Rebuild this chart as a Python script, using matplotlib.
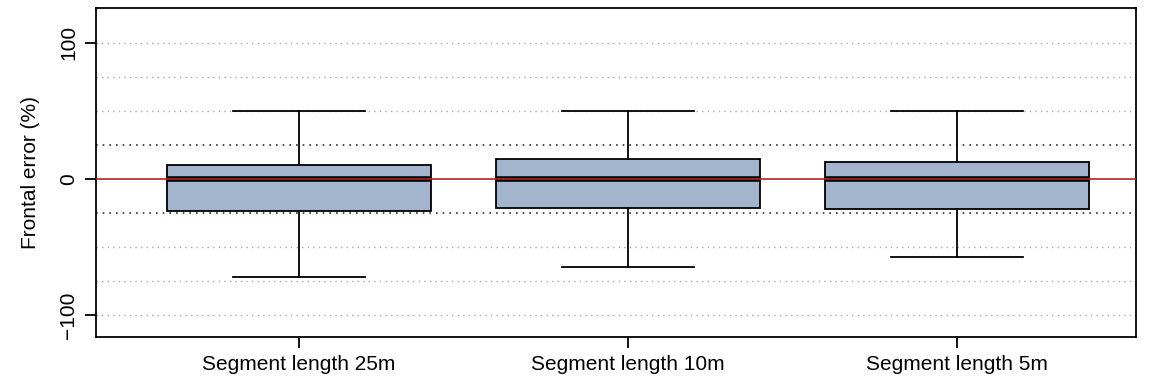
import matplotlib.pyplot as plt

labels = ["Segment length 25m", "Segment length 10m", "Segment length 5m"]
whisker_low = [-72, -64.5, -57]
q1 = [-23.5, -21.5, -22]
median = [0, 0, 0]
q3 = [10, 14.5, 12]
whisker_high = [50, 50, 50]

stats = []
for i, lab in enumerate(labels):
    stats.append({"label": lab, "whislo": whisker_low[i], "q1": q1[i], "med": median[i],
                  "q3": q3[i], "whishi": whisker_high[i], "fliers": []})

plt.rcParams["font.family"] = ["Liberation Sans", "DejaVu Sans"]

fig = plt.figure(figsize=(11.49, 3.84), dpi=100)
ax = fig.add_axes([0.0836, 0.1224, 0.9051, 0.8556])

# reference grid
for y in [-100, -75, -50, 50, 75, 100]:
    ax.axhline(y, color="#aaaaaa", lw=1, ls=(0, (1, 3)), zorder=0)
for y in [-25, 25]:
    ax.axhline(y, color="#333333", lw=1.2, ls=(0, (1, 3)), zorder=0)

ax.bxp(stats, positions=[1, 2, 3], widths=0.8, patch_artist=True, showfliers=False,
       boxprops=dict(facecolor="#A2B5CD", edgecolor="black", lw=1.3),
       medianprops=dict(color="black", lw=4),
       whiskerprops=dict(color="black", lw=1.3, ls="-"),
       capprops=dict(color="black", lw=1.3), capwidths=0.4, zorder=2)

ax.axhline(0, color="#b22222", lw=1.2, zorder=3)

ax.set_xlim(0.383, 3.544)
ax.set_ylim(-116, 125)
ax.set_yticks([-100, 0, 100])
ax.set_yticklabels(["\u2212100", "0", "100"], rotation=90, va="center", fontsize=15)
ax.set_xticks([1, 2, 3])
ax.set_xticklabels(labels, fontsize=15)
ax.tick_params(axis="both", length=8, width=1.3, pad=5)
ax.set_ylabel("Frontal error (%)", fontsize=15, labelpad=14)
for s in ax.spines.values():
    s.set_linewidth(1.3)

fig.savefig("out.png", dpi=100)
